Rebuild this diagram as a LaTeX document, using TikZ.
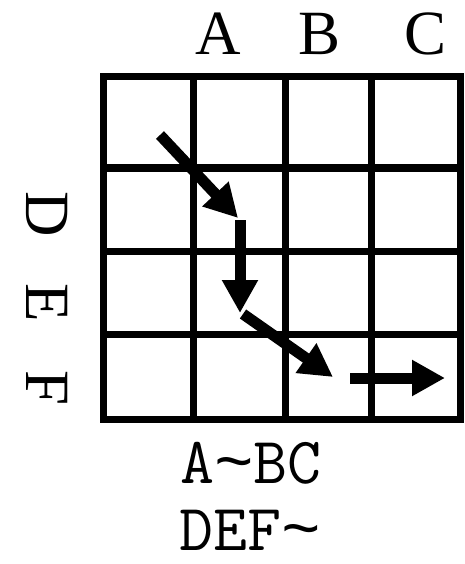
\documentclass[tikz,border=0pt]{standalone}
\usepackage{fontspec}
\setmainfont{Liberation Serif}
\newfontfamily\tildefont{Liberation Mono}
\usetikzlibrary{arrows.meta}
\definecolor{inkblack}{HTML}{000000}
\newcommand{\midtilde}{{\tildefont\textasciitilde}}
\tikzset{
  gridline/.style={draw=inkblack, line width=7pt},
  collabel/.style={anchor=base, inner sep=0pt, font=\fontsize{63}{63}\selectfont},
  rowlabel/.style={anchor=center, inner sep=0pt, rotate=-90, font=\fontsize{63}{63}\selectfont},
  codelabel/.style={anchor=base, inner sep=0pt, font=\ttfamily\fontsize{66}{66}\selectfont},
  move/.style={-{Triangle[length=33pt, width=34pt]}, line width=11pt, draw=inkblack}
}
\begin{document}
\begin{tikzpicture}[x=1pt, y=-1pt]
\useasboundingbox (0,0) rectangle (465,564);

\node[collabel] (colA) at (218,55) {A};
\node[collabel] (colB) at (320,55) {B};
\node[collabel] (colC) at (426,55) {C};

\node[rowlabel] (rowD) at (47,214) {D};
\node[rowlabel] (rowE) at (47,303) {E};
\node[rowlabel] (rowF) at (47,388) {F};

\foreach \x in {193,285.5,371.5} {
  \draw[gridline] (\x,76.5) -- (\x,419.5);
}
\foreach \y in {168,251.5,334.5} {
  \draw[gridline] (103.5,\y) -- (460.5,\y);
}
\draw[gridline] (103.5,76.5) rectangle (460.5,419.5);

\coordinate (p0) at (160,135);
\coordinate (p1) at (238,218);
\coordinate (p2) at (240,220);
\coordinate (p3) at (240,313);
\coordinate (p4) at (243,314);
\coordinate (p5) at (333,377);
\coordinate (p6) at (350,378);
\coordinate (p7) at (445,378);

\draw[move] (p0) -- (p1);
\draw[move] (p2) -- (p3);
\draw[move] (p4) -- (p5);
\draw[move] (p6) -- (p7);

\node[codelabel] (first) at (251,483) {A\midtilde BC};
\node[codelabel] (second) at (250,550) {DEF\midtilde};

\end{tikzpicture}
\end{document}
